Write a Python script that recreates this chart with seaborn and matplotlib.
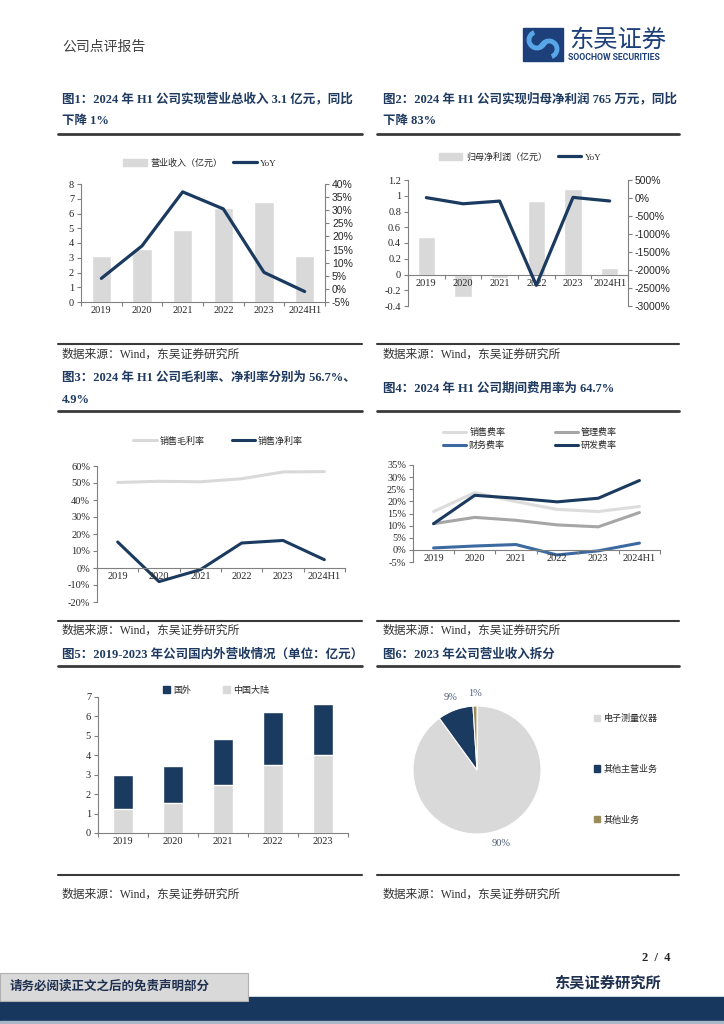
import matplotlib
matplotlib.use('Agg')
import matplotlib.pyplot as plt
import matplotlib.patches as mpatches
from matplotlib.lines import Line2D
from matplotlib.ticker import FuncFormatter, FixedLocator
import seaborn as sns
import pandas as pd
import numpy as np

# ---- data ----
years = ['2019', '2020', '2021', '2022', '2023', '2024H1']
revenue = [3.1, 3.6, 4.9, 6.4, 6.8, 3.1]
revenue_yoy = [4.0, 16.4, 37.0, 30.5, 6.3, -1.0]
net_profit = [0.47, -0.28, -0.04, 0.93, 1.09, 0.0765]
net_profit_yoy = [10, -160, -86, -2425, 17, -83]
gross_margin = [50.3, 51.0, 50.7, 52.5, 56.5, 56.7]
net_margin = [15.3, -8.0, -1.0, 14.7, 16.2, 4.9]
sell_rate = [15.8, 23.6, 19.9, 16.7, 15.8, 17.9]
admin_rate = [10.8, 13.4, 12.2, 10.3, 9.5, 15.4]
fin_rate = [0.8, 1.6, 2.2, -2.1, -0.4, 2.8]
rd_rate = [10.8, 22.5, 21.3, 19.8, 21.3, 28.6]
years5 = ['2019', '2020', '2021', '2022', '2023']
domestic = [1.25, 1.52, 2.47, 3.49, 3.99]
overseas = [1.73, 1.91, 2.39, 2.73, 2.64]
seg_names = ['电子测量仪器', '其他主营业务', '其他业务']
seg_share = [90, 9, 1]

NAVY = '#1b3a5f'
GRAY = '#d9d9d9'
TITLE_C = '#1f3a60'
AX_C = '#808080'
SERIF = ['Liberation Serif', 'Noto Sans CJK SC']
SANS = ['Liberation Sans', 'Noto Sans CJK SC']
CJK = ['Noto Sans CJK SC', 'DejaVu Sans']
TICK_FS = 7.5

sns.set_style('white')
plt.rcParams['font.family'] = SERIF
plt.rcParams['axes.unicode_minus'] = False

W, H = 724, 1024
fig = plt.figure(figsize=(W / 100, H / 100), dpi=100)

# page background layer in pixel coordinates
bg = fig.add_axes([0, 0, 1, 1])
bg.set_xlim(0, W)
bg.set_ylim(H, 0)
bg.axis('off')


def px_axes(x0, y0, x1, y1):
    a = fig.add_axes([x0 / W, 1 - y1 / H, (x1 - x0) / W, (y1 - y0) / H])
    a.set_facecolor('none')
    return a


def cat_axis(ax, labels, zero_spine=False):
    # spine position first: moving it resets the tick settings
    if zero_spine:
        ax.spines['bottom'].set_position(('data', 0))
        ax.set_axisbelow(False)
    n = len(labels)
    ax.set_xlim(-0.5, n - 0.5)
    ax.set_xticks(range(n))
    ax.set_xticklabels(labels, fontsize=TICK_FS, family=SERIF)
    ax.xaxis.set_minor_locator(FixedLocator(np.arange(-0.5, n, 1)))
    ax.tick_params(axis='x', which='major', length=0, pad=3)
    ax.tick_params(axis='x', which='minor', length=3, color=AX_C, width=0.8,
                   direction='out', bottom=True)
    ax.tick_params(axis='y', length=3, color=AX_C, width=0.8, direction='out',
                   labelsize=TICK_FS, left=True, pad=2)
    for s in ['top', 'right']:
        ax.spines[s].set_visible(False)
    for s in ['left', 'bottom']:
        ax.spines[s].set_color(AX_C)
        ax.spines[s].set_linewidth(0.8)
    ax.set_xlabel('')
    ax.set_ylabel('')


def right_axis(ax2, fmt_family):
    for s in ['top', 'left', 'bottom']:
        ax2.spines[s].set_visible(False)
    ax2.spines['right'].set_color(AX_C)
    ax2.spines['right'].set_linewidth(0.8)
    ax2.tick_params(axis='y', length=3, color=AX_C, width=0.8, direction='out',
                    labelsize=TICK_FS, right=True, pad=2)
    for t in ax2.get_yticklabels():
        t.set_family(fmt_family)
    ax2.set_ylabel('')


pct = FuncFormatter(lambda v, _: f'{v:.0f}%')
leg_font = {'family': SERIF, 'size': 6.5}

# ---- chart 1 ----
ax = px_axes(81, 184, 325, 302)
sns.barplot(x=years, y=revenue, ax=ax, color=GRAY, width=0.48, saturation=1)
cat_axis(ax, years)
ax.set_ylim(0, 8)
ax.set_yticks(range(0, 9))
ax2 = ax.twinx()
sns.lineplot(x=np.arange(6), y=revenue_yoy, ax=ax2, color=NAVY, lw=2.3)
ax2.set_ylim(-5, 40)
ax2.set_yticks(range(-5, 41, 5))
ax2.yaxis.set_major_formatter(pct)
right_axis(ax2, SANS)
fig.legend([mpatches.Patch(color=GRAY), Line2D([], [], color=NAVY, lw=2.3)],
           ['营业收入（亿元）', 'YoY'], loc='center', ncol=2, frameon=False,
           bbox_to_anchor=(200 / W, 1 - 163 / H), prop=leg_font,
           handlelength=2.6, columnspacing=1.2, handletextpad=0.4)

# ---- chart 2 ----
ax = px_axes(408, 180, 628, 306)
sns.barplot(x=years, y=net_profit, ax=ax, color=GRAY, width=0.47, saturation=1)
cat_axis(ax, years, zero_spine=True)
ax.set_ylim(-0.4, 1.2)
ax.set_yticks(np.round(np.arange(-0.4, 1.21, 0.2), 1))
ax.yaxis.set_major_formatter(FuncFormatter(lambda v, _: f'{v:g}'))
ax2 = ax.twinx()
sns.lineplot(x=np.arange(6), y=net_profit_yoy, ax=ax2, color=NAVY, lw=2.3)
ax2.set_ylim(-3000, 500)
ax2.set_yticks(range(-3000, 501, 500))
ax2.yaxis.set_major_formatter(pct)
right_axis(ax2, SANS)
fig.legend([mpatches.Patch(color=GRAY), Line2D([], [], color=NAVY, lw=2.3)],
           ['归母净利润（亿元）', 'YoY'], loc='center', ncol=2, frameon=False,
           bbox_to_anchor=(520 / W, 1 - 157 / H), prop=leg_font,
           handlelength=2.6, columnspacing=1.2, handletextpad=0.4)

# ---- chart 3 ----
ax = px_axes(97, 466, 345, 602)
margins = pd.DataFrame({'pos': list(range(6)) * 2,
                        'value': gross_margin + net_margin,
                        'series': ['销售毛利率'] * 6 + ['销售净利率'] * 6})
sns.lineplot(data=margins, x='pos', y='value', hue='series', ax=ax, lw=2.2,
             palette={'销售毛利率': GRAY, '销售净利率': NAVY}, legend=False)
cat_axis(ax, years, zero_spine=True)
ax.set_ylim(-20, 60)
ax.set_yticks(range(-20, 61, 10))
ax.yaxis.set_major_formatter(pct)
fig.legend([Line2D([], [], color=GRAY, lw=2.2), Line2D([], [], color=NAVY, lw=2.2)],
           ['销售毛利率', '销售净利率'], loc='center', ncol=2, frameon=False,
           bbox_to_anchor=(218 / W, 1 - 441 / H), prop=leg_font,
           handlelength=2.6, columnspacing=3.0, handletextpad=0.3)

# ---- chart 4 ----
ax = px_axes(413, 465, 660, 562)
rate_names = ['销售费率', '管理费率', '财务费率', '研发费率']
rate_colors = ['#dcdcdc', '#a6a6a6', '#3c6aa0', NAVY]
rates = pd.DataFrame({'pos': list(range(6)) * 4,
                      'value': sell_rate + admin_rate + fin_rate + rd_rate,
                      'series': sum([[n] * 6 for n in rate_names], [])})
sns.lineplot(data=rates, x='pos', y='value', hue='series', ax=ax, lw=2.2,
             palette=dict(zip(rate_names, rate_colors)), legend=False)
cat_axis(ax, years, zero_spine=True)
ax.set_ylim(-5, 35)
ax.set_yticks(range(-5, 36, 5))
ax.yaxis.set_major_formatter(pct)
# legend fills column-first: order so rows read 销售/管理, 财务/研发
leg_order = [0, 2, 1, 3]
fig.legend([Line2D([], [], color=rate_colors[i], lw=2.2) for i in leg_order],
           [rate_names[i] for i in leg_order],
           loc='center', ncol=2, frameon=False,
           bbox_to_anchor=(530 / W, 1 - 439 / H), prop=leg_font,
           handlelength=2.6, columnspacing=5.5, handletextpad=0.3, labelspacing=0.5)

# ---- chart 5 ----
ax = px_axes(98, 697, 348, 833)
totals = [d + o for d, o in zip(domestic, overseas)]
sns.barplot(x=years5, y=totals, ax=ax, color=NAVY, width=0.4, saturation=1)
sns.barplot(x=years5, y=domestic, ax=ax, color=GRAY, width=0.4, saturation=1)
cat_axis(ax, years5)
ax.set_ylim(0, 7)
ax.set_yticks(range(0, 8))
fig.legend([mpatches.Patch(color=NAVY), mpatches.Patch(color=GRAY)],
           ['国外', '中国大陆'], loc='center', ncol=2, frameon=False,
           bbox_to_anchor=(216 / W, 1 - 690 / H), prop=leg_font,
           handlelength=0.8, handleheight=0.8, columnspacing=3.5, handletextpad=0.3)

# ---- chart 6 ----
ax = px_axes(397, 690, 557, 850)
pie_colors = [GRAY, NAVY, '#9a8c5a']
ax.pie(seg_share, colors=pie_colors, startangle=90, counterclock=False,
       autopct=lambda p: f'{p:.0f}%', pctdistance=1.2,
       wedgeprops=dict(linewidth=0.8, edgecolor='white'),
       textprops=dict(color='#4a5a78', fontsize=7.5, family=SERIF))
ax.set_aspect('equal')
fig.legend([mpatches.Patch(color=c) for c in pie_colors], seg_names,
           loc='upper left', frameon=False,
           bbox_to_anchor=(586 / W, 1 - 706 / H), prop=leg_font,
           handlelength=0.7, handleheight=0.7, handletextpad=0.4, labelspacing=4.6)

# ---- page furniture ----
def ptext(x, y, s, size, **kw):
    kw.setdefault('va', 'center')
    kw.setdefault('family', SERIF)
    bg.text(x, y, s, fontsize=size, **kw)


ptext(62, 47, '公司点评报告', 10, color='#404040', family=CJK)

# logo
bg.add_patch(mpatches.Rectangle((523, 28), 40, 33, color='#1d3f7a'))
bg.add_patch(mpatches.Arc((537, 40), 16, 16, theta1=20, theta2=250,
                          color='#58a6e8', lw=3.5))
bg.add_patch(mpatches.Arc((549, 49), 16, 16, theta1=200, theta2=430,
                          color='#58a6e8', lw=3.5))
bg.plot([540, 546], [47, 42], color='#58a6e8', lw=3.5, solid_capstyle='round')
ptext(569, 40, '东吴证券', 17.5, color='#1d3f7a', family=CJK)
ptext(568, 58, 'SOOCHOW SECURITIES', 6.2, color='#1d3f7a', family=['Roboto'],
      weight='bold')

tkw = dict(color=TITLE_C, weight='bold', va='center')
ptext(62, 99, '图1：2024 年 H1 公司实现营业总收入 3.1 亿元，同比', 9, **tkw)
ptext(62, 121, '下降 1%', 9, **tkw)
ptext(383, 99, '图2：2024 年 H1 公司实现归母净利润 765 万元，同比', 9, **tkw)
ptext(383, 121, '下降 83%', 9, **tkw)
ptext(62, 378, '图3：2024 年 H1 公司毛利率、净利率分别为 56.7%、', 9, **tkw)
ptext(62, 400, '4.9%', 9, **tkw)
ptext(383, 389, '图4：2024 年 H1 公司期间费用率为 64.7%', 9, **tkw)
ptext(62, 655, '图5：2019-2023 年公司国内外营收情况（单位：亿元）', 9, **tkw)
ptext(383, 655, '图6：2023 年公司营业收入拆分', 9, **tkw)

for top, bot in [(134, 344), (411, 621), (666, 875)]:
    for x0, x1 in [(58, 362), (377, 679)]:
        bg.plot([x0, x1], [top, top], color='#3a3a3a', lw=2.0)
        bg.plot([x0, x1], [bot, bot], color='#3a3a3a', lw=1.5)

for y in [355, 631, 895]:
    for x in [62, 383]:
        ptext(x, y, '数据来源：Wind，东吴证券研究所', 8.5, color='#333333')

ptext(671, 958, '2  /  4', 9, color='#222222', weight='bold', ha='right')
ptext(661, 983, '东吴证券研究所', 11, color='#1f3050', weight='bold', ha='right')
bg.add_patch(mpatches.Rectangle((0, 997), W, 27, color='#17375e'))
bg.add_patch(mpatches.Rectangle((0, 1021), W, 3, color='#a9b7c9'))
bg.add_patch(mpatches.Rectangle((0, 973), 248, 28, facecolor='#d9d9d9',
                                edgecolor='#b0b0b0', lw=0.8))
ptext(10, 987, '请务必阅读正文之后的免责声明部分', 9, color='#1f3050', weight='bold')

fig.savefig('out.png', dpi=100)
